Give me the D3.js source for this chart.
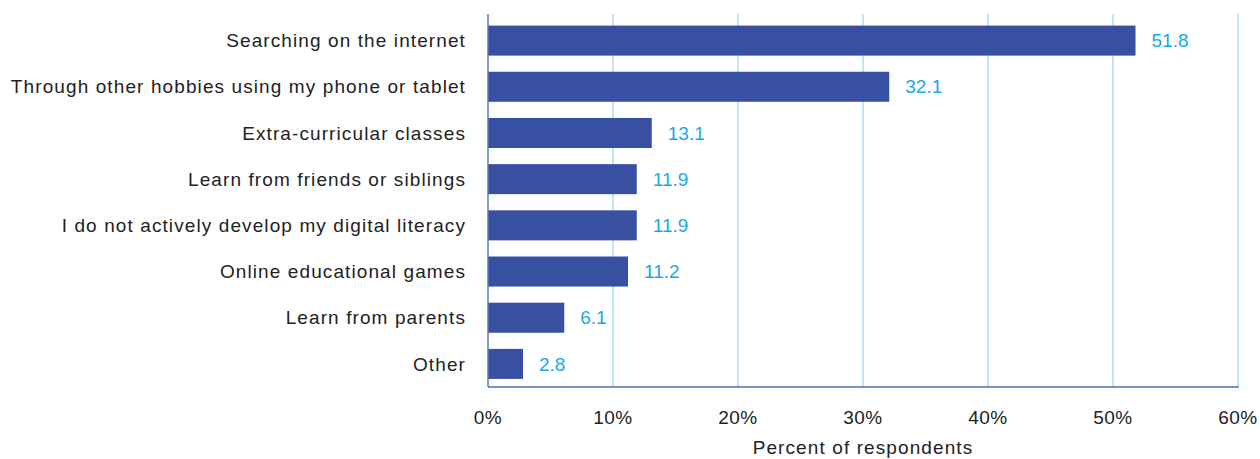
<!DOCTYPE html>
<html>
<head>
<meta charset="utf-8">
<script src="https://cdn.jsdelivr.net/npm/d3@7"></script>
<style>
  html, body { margin: 0; padding: 0; background: #fff; }
  svg { display: block; font-family: "Liberation Sans", Arial, sans-serif; }
</style>
</head>
<body>
<svg id="chart" width="1260" height="459"></svg>
<script>
// How respondents develop their digital literacy (percent of respondents)
const categories = [
  "Searching on the internet",
  "Through other hobbies using my phone or tablet",
  "Extra-curricular classes",
  "Learn from friends or siblings",
  "I do not actively develop my digital literacy",
  "Online educational games",
  "Learn from parents",
  "Other"
];
const values = [51.8, 32.1, 13.1, 11.9, 11.9, 11.2, 6.1, 2.8];
const xTicks = [0, 10, 20, 30, 40, 50, 60];
const xTitle = "Percent of respondents";

const svg = d3.select("#chart");
const plotLeft = 488, plotRight = 1238, plotTop = 14, plotBottom = 387;

const x = d3.scaleLinear().domain([0, 60]).range([plotLeft, plotRight]);
const y = d3.scaleBand().domain(categories).range([17.5, plotBottom]).paddingInner(0.35).paddingOuter(0.175);

const data = categories.map((c, i) => ({ c, v: values[i] }));

// vertical gridlines
svg.append("g")
  .selectAll("line")
  .data(xTicks.filter(t => t > 0))
  .join("line")
  .attr("x1", d => x(d)).attr("x2", d => x(d))
  .attr("y1", plotTop).attr("y2", plotBottom)
  .attr("stroke", "#a9dcf3").attr("stroke-width", 1.5);

// bars
svg.append("g")
  .selectAll("rect")
  .data(data)
  .join("rect")
  .attr("x", x(0))
  .attr("y", d => y(d.c))
  .attr("width", d => x(d.v) - x(0))
  .attr("height", y.bandwidth())
  .attr("fill", "#3750a2");

// value labels
svg.append("g")
  .selectAll("text")
  .data(data)
  .join("text")
  .attr("x", d => x(d.v) + 16)
  .attr("y", d => y(d.c) + y.bandwidth() / 2)
  .attr("dy", "0.35em")
  .attr("fill", "#1ba8e6")
  .attr("font-size", 19)
  .text(d => d.v.toFixed(1));

// category labels
svg.append("g")
  .selectAll("text")
  .data(data)
  .join("text")
  .attr("x", 466)
  .attr("y", d => y(d.c) + y.bandwidth() / 2)
  .attr("dy", "0.35em")
  .attr("text-anchor", "end")
  .attr("fill", "#222")
  .attr("font-size", 19)
  .attr("letter-spacing", 1.1)
  .text(d => d.c);

// axis lines
svg.append("line")
  .attr("x1", plotLeft).attr("x2", plotLeft).attr("y1", plotTop).attr("y2", plotBottom)
  .attr("stroke", "#5b7bb8").attr("stroke-width", 1.5);
svg.append("line")
  .attr("x1", plotLeft).attr("x2", plotRight + 0.75).attr("y1", plotBottom).attr("y2", plotBottom)
  .attr("stroke", "#4a6cae").attr("stroke-width", 1.5);

// x tick labels
svg.append("g")
  .selectAll("text")
  .data(xTicks)
  .join("text")
  .attr("x", d => x(d))
  .attr("y", 424)
  .attr("text-anchor", "middle")
  .attr("fill", "#222")
  .attr("font-size", 19)
  .attr("letter-spacing", 0.5)
  .text(d => d + "%");

// x axis title
svg.append("text")
  .attr("x", (plotLeft + plotRight) / 2)
  .attr("y", 454)
  .attr("text-anchor", "middle")
  .attr("fill", "#222")
  .attr("font-size", 19)
  .attr("letter-spacing", 1.1)
  .text(xTitle);
</script>
</body>
</html>
